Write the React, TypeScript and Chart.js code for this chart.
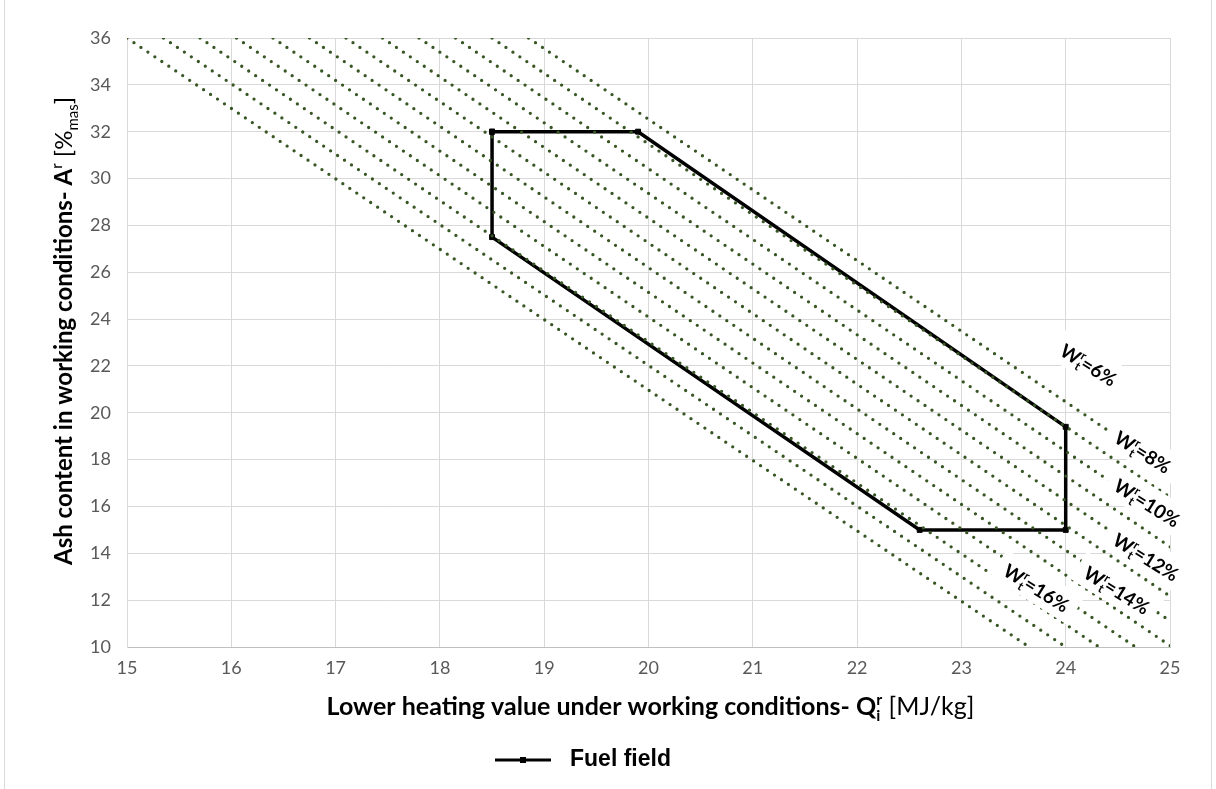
import React, { useEffect, useRef } from "react";
import { Chart, registerables } from "chart.js";

Chart.register(...registerables);

// ---- Axis ranges / ticks ----
const xMin = 15;
const xMax = 25;
const xStep = 1;
const yMin = 10;
const yMax = 36;
const yStep = 2;

// ---- Fuel field polygon (Q [MJ/kg], A [%]) ----
const fuelFieldQ = [18.5, 19.9, 24.0, 24.0, 22.6, 18.5, 18.5];
const fuelFieldA = [32.0, 32.0, 19.4, 15.0, 15.0, 27.5, 32.0];

// ---- Constant-moisture dotted lines: Q where each line meets A=36 and A=10 ----
const moistureTopA = 36;
const moistureBottomA = 10;
const moistureTopQ = [15.0, 15.35, 15.7, 16.05, 16.4, 16.75, 17.1, 17.45, 17.8, 18.15, 18.5, 18.85];
const moistureBottomQ = [23.65, 24.0, 24.32, 24.67, 25.02, 25.37, 25.72, 26.07, 26.42, 26.77, 27.12, 27.47];

// ---- Moisture labels (W^r_t = ...) ----
const moistureLabelText = ["=6%", "=8%", "=10%", "=12%", "=14%", "=16%"];
const moistureLabelQ = [24.22, 24.74, 24.78, 24.77, 24.49, 23.72];
const moistureLabelA = [22.04, 18.32, 16.15, 13.84, 12.43, 12.52];

const legendLabel = "Fuel field";

const FAMILY = 'Lato, "Open Sans", sans-serif';

type Seg = { t: string; font: string; dy?: number; stack?: boolean };

function layoutSegs(ctx: CanvasRenderingContext2D, segs: Seg[]) {
  let x = 0;
  let lastX = 0;
  let lastW = 0;
  const pos: number[] = [];
  segs.forEach((s) => {
    ctx.font = s.font;
    const w = ctx.measureText(s.t).width;
    if (s.stack) {
      pos.push(lastX);
      lastW = Math.max(lastW, w);
      x = lastX + lastW;
    } else {
      pos.push(x);
      lastX = x;
      lastW = w;
      x += w;
    }
  });
  return { pos, total: x };
}

function drawSegs(ctx: CanvasRenderingContext2D, segs: Seg[], startX: number, baseY: number) {
  const { pos } = layoutSegs(ctx, segs);
  ctx.textAlign = "left";
  ctx.textBaseline = "alphabetic";
  segs.forEach((s, i) => {
    ctx.font = s.font;
    ctx.fillText(s.t, startX + pos[i], baseY + (s.dy || 0));
  });
}

const overlayPlugin = {
  id: "overlay",
  afterDatasetsDraw(chart: any) {
    const ctx: CanvasRenderingContext2D = chart.ctx;
    const xs = chart.scales.x;
    const ys = chart.scales.y;
    ctx.save();
    moistureLabelText.forEach((txt, i) => {
      const px = xs.getPixelForValue(moistureLabelQ[i]);
      const py = ys.getPixelForValue(moistureLabelA[i]);
      const segs: Seg[] = [
        { t: "W", font: `bold 19px ${FAMILY}` },
        { t: "r", font: `bold 12px ${FAMILY}`, dy: -8 },
        { t: "t", font: `bold 12px ${FAMILY}`, dy: 4, stack: true },
        { t: txt, font: `bold 19px ${FAMILY}` },
      ];
      const { total } = layoutSegs(ctx, segs);
      ctx.save();
      ctx.translate(px, py);
      ctx.rotate((32 * Math.PI) / 180);
      ctx.fillStyle = "#ffffff";
      ctx.fillRect(-total / 2 - 9, -17, total + 18, 32);
      ctx.fillStyle = "#000000";
      drawSegs(ctx, segs, -total / 2, 7);
      ctx.restore();
    });
    ctx.restore();
  },
  afterDraw(chart: any) {
    const ctx: CanvasRenderingContext2D = chart.ctx;
    const area = chart.chartArea;
    ctx.save();
    ctx.fillStyle = "#000000";
    // X title
    const xSegs: Seg[] = [
      { t: "Lower heating value under working conditions- Q", font: `bold 25px ${FAMILY}` },
      { t: "r", font: `bold 16px ${FAMILY}`, dy: -10 },
      { t: "i", font: `bold 16px ${FAMILY}`, dy: 6, stack: true },
      { t: " [MJ/kg]", font: `25px ${FAMILY}` },
    ];
    const xl = layoutSegs(ctx, xSegs);
    const cx = (area.left + area.right) / 2 + 2;
    drawSegs(ctx, xSegs, cx - xl.total / 2, 715);

    // Y title
    const ySegs: Seg[] = [
      { t: "Ash content in working conditions- A", font: `bold 24px ${FAMILY}` },
      { t: "r", font: `15px ${FAMILY}`, dy: -10 },
      { t: " [%", font: `24px ${FAMILY}` },
      { t: "mas", font: `15px ${FAMILY}`, dy: 6 },
      { t: "]", font: `24px ${FAMILY}` },
    ];
    const yl = layoutSegs(ctx, ySegs);
    ctx.save();
    ctx.translate(72, 331);
    ctx.rotate(-Math.PI / 2);
    drawSegs(ctx, ySegs, -yl.total / 2, 0);
    ctx.restore();

    // Legend
    const ly = 760;
    ctx.strokeStyle = "#000000";
    ctx.lineWidth = 3;
    ctx.beginPath();
    ctx.moveTo(495, ly);
    ctx.lineTo(551, ly);
    ctx.stroke();
    ctx.fillRect(520, ly - 3, 6, 6);
    ctx.font = `bold 23px "Liberation Sans Narrow", "Liberation Sans", sans-serif`;
    ctx.textAlign = "left";
    ctx.textBaseline = "middle";
    ctx.fillText(legendLabel, 570, ly);
    ctx.restore();
  },
};

export default function App() {
  const ref = useRef<HTMLCanvasElement>(null);
  useEffect(() => {
    const datasets: any[] = moistureTopQ.map((q0, i) => ({
      label: "W" + i,
      data: [
        { x: q0, y: moistureTopA },
        { x: moistureBottomQ[i], y: moistureBottomA },
      ],
      showLine: true,
      borderColor: "#375623",
      borderWidth: 3.3,
      borderDash: [0, 8.4],
      borderCapStyle: "round",
      pointRadius: 0,
      fill: false,
      order: 0,
    }));
    datasets.push({
      label: legendLabel,
      data: fuelFieldQ.map((q, i) => ({ x: q, y: fuelFieldA[i] })),
      showLine: true,
      borderColor: "#000000",
      backgroundColor: "#000000",
      borderWidth: 3.5,
      pointStyle: "rect",
      pointRadius: 3.5,
      pointBorderWidth: 1,
      fill: false,
      order: 1,
    });
    const chart = new Chart(ref.current as HTMLCanvasElement, {
      type: "scatter",
      data: { datasets },
      options: {
        animation: false,
        responsive: false,
        devicePixelRatio: 1,
        layout: { padding: { top: 38, right: 46, left: 0, bottom: 0 } },
        plugins: { legend: { display: false }, tooltip: { enabled: false } },
        scales: {
          x: {
            type: "linear",
            min: xMin,
            max: xMax,
            ticks: { stepSize: xStep, color: "#595959", font: { family: FAMILY, size: 18 }, padding: 10 },
            grid: { color: "#d9d9d9", drawTicks: false },
            border: { color: "#bfbfbf" },
            afterFit: (s: any) => {
              s.height = 142;
            },
          },
          y: {
            type: "linear",
            min: yMin,
            max: yMax,
            ticks: { stepSize: yStep, color: "#595959", font: { family: FAMILY, size: 18 }, padding: 16 },
            grid: { color: "#d9d9d9", drawTicks: false },
            border: { color: "#d9d9d9" },
            afterFit: (s: any) => {
              s.width = 127;
            },
          },
        },
      } as any,
      plugins: [overlayPlugin],
    });
    return () => chart.destroy();
  }, []);
  return (
    <div style={{ position: "fixed", left: 0, top: 0, width: 1216, height: 789, overflow: "hidden", background: "#ffffff" }}>
      <div
        style={{
          position: "absolute",
          left: 4,
          top: -2,
          width: 1208,
          height: 800,
          border: "1px solid #d9d9d9",
          boxSizing: "border-box",
        }}
      />
      <canvas ref={ref} width={1216} height={789} style={{ position: "absolute", left: 0, top: 0, width: 1216, height: 789 }} />
    </div>
  );
}
